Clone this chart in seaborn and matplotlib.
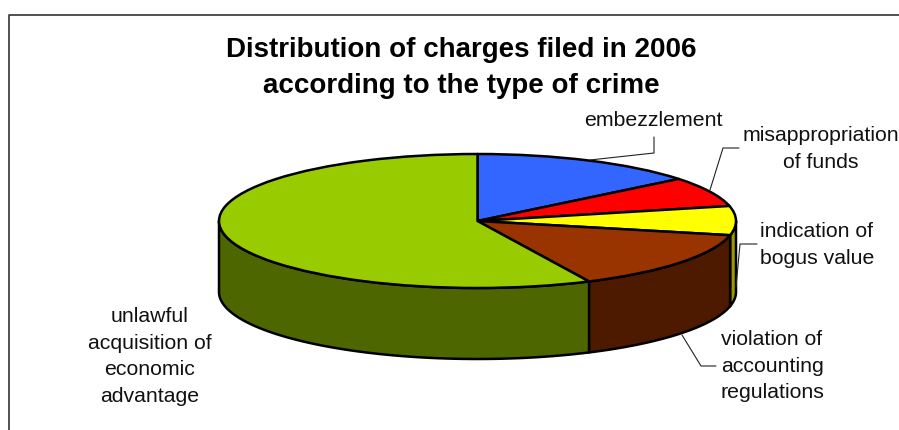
import numpy as np
import matplotlib
matplotlib.use("Agg")
import matplotlib.pyplot as plt
from matplotlib.lines import Line2D
from matplotlib.transforms import Affine2D
import seaborn as sns

# Share of charges per type of crime, in percent, clockwise from twelve o'clock
crime_types = ["embezzlement", "misappropriation\nof funds", "indication of\nbogus value",
               "violation of\naccounting\nregulations", "unlawful\nacquisition of\neconomic\nadvantage"]
shares = [14.2, 7.2, 7.0, 14.5, 57.1]
top_colors = ["#3366ff", "#ff0000", "#ffff00", "#993300", "#99cc00"]
side_colors = ["#1f3d99", "#990000", "#999900", "#4d1a00", "#4d6600"]

sns.set_theme(style="white")
plt.rcParams["font.family"] = ["Liberation Sans", "DejaVu Sans"]

W, H = 899, 430
CX, CY, RX, RY, DEPTH = 477.5, 221.0, 258.5, 67.0, 71.0
EDGE = 1.8

fig = plt.figure(figsize=(W / 100, H / 100), dpi=100, facecolor="white")
ax = fig.add_axes([0, 0, 1, 1])

# Pixel coordinates measured from the top-left corner of the figure
px = Affine2D().scale(1, -1).translate(0, H)

# Top face of the disc: a unit pie squashed through the axis limits
ax.pie(shares, colors=top_colors, startangle=90, counterclock=False, radius=1,
       wedgeprops=dict(edgecolor="black", linewidth=EDGE, joinstyle="round", zorder=3))
ax.set_aspect("auto")
ax.set_xlim(-CX / RX, (W - CX) / RX)
ax.set_ylim(-(H - CY) / RY, CY / RY)
ax.set_axis_off()

# Side wall: only the front half of the rim, from 3 o'clock round to 9 o'clock
depth = DEPTH / RY
bounds = np.concatenate([[0], np.cumsum(shares)]) / sum(shares) * 360
for start, stop, color in zip(bounds[:-1], bounds[1:], side_colors):
    lo, hi = max(start, 90), min(stop, 270)
    if hi <= lo:
        continue
    t = np.radians(np.linspace(lo, hi, 120))
    xs, ys = np.sin(t), np.cos(t)
    ax.fill(np.r_[xs, xs[::-1]], np.r_[ys, ys[::-1] - depth], facecolor=color,
            edgecolor="black", linewidth=EDGE, joinstyle="round", zorder=2)

# Leader lines from the disc to the labels
leaders = [
    ([590, 654, 654], [160, 153, 137]),
    ([710, 723, 739], [190, 148, 148]),
    ([736, 740, 757], [287, 244, 244]),
    ([682, 701, 716], [335, 366, 366]),
]
for lx, ly in leaders:
    ax.add_line(Line2D(lx, ly, transform=px, color="#222222", linewidth=0.8, zorder=4))

# Slice labels
label_pos = [(653, 120.5), (821, 149), (817, 245), (772, 366), (150, 356.5)]
for name, (tx, ty) in zip(crime_types, label_pos):
    ax.text(tx, ty, name, transform=px, ha="center", va="center", fontsize=15.3,
            color="#111111", linespacing=1.51, multialignment="center", zorder=5)

ax.text(461, 68, "Distribution of charges filed in 2006\naccording to the type of crime",
        transform=px, ha="center", va="center", fontsize=20, fontweight="bold",
        color="black", linespacing=1.46, multialignment="center", zorder=5)

# Chart frame
ax.add_line(Line2D([9, 9, W], [H, 15, 15], transform=px, color="#333333", linewidth=1.2, zorder=1))

fig.savefig("out.png", dpi=100, facecolor="white")
